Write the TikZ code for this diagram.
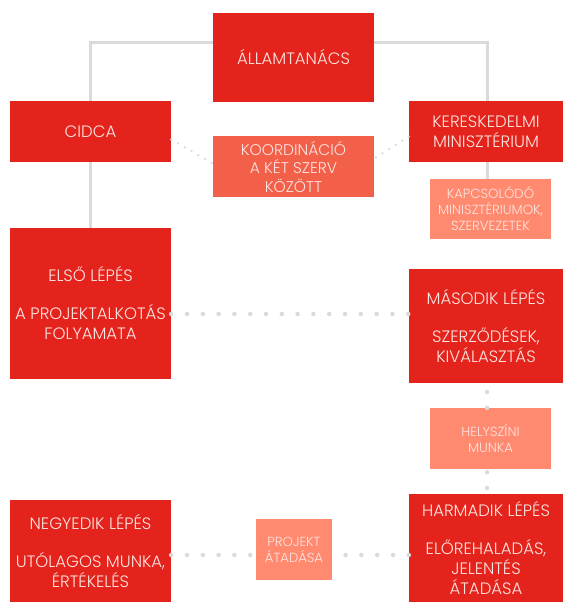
\documentclass[tikz,border=0pt]{standalone}
\usepackage{fontspec}
\IfFontExistsTF{Poppins Light}{\setmainfont{Poppins Light}}{\setmainfont{Poppins}}
\usetikzlibrary{calc}
\definecolor{boxred}{RGB}{228,36,28}
\definecolor{midred}{RGB}{242,96,74}
\definecolor{salmon}{RGB}{255,138,112}
\definecolor{boxtext}{RGB}{253,228,224}
\definecolor{linegray}{RGB}{218,218,218}
\tikzset{%
  stepbox/.style  = {shape=rectangle, fill=boxred, draw=none,%
                     align=center, text=boxtext, inner sep=0pt,%
                     font=\fontsize{16.5}{20}\selectfont},%
  coordbox/.style = {stepbox, fill=midred,%
                     font=\fontsize{15.5}{18.5}\selectfont},%
  sidebox/.style  = {stepbox, fill=salmon,%
                     font=\fontsize{13.2}{16}\selectfont},%
  tie/.style      = {draw=linegray, line width=3pt},%
  bigdots/.style  = {draw=linegray, line width=4.5pt, line cap=round,%
                     dash pattern=on 0pt off 15.8pt},%
  smalldots/.style= {draw=linegray, line width=2.5pt, line cap=round,%
                     dash pattern=on 0pt off 7.8pt}%
}
\begin{document}
\begin{tikzpicture}[x=1pt,y=-1pt]
	\useasboundingbox (0,0) rectangle (563,602);
	\node (allam) at (293.5,57.5) [stepbox,minimum width=161pt,minimum height=89pt] {ÁLLAMTANÁCS};
	\node (cidca) at (90.5,131.5) [stepbox,minimum width=161pt,minimum height=61pt] {CIDCA};
	\node (keresk) at (486,131.5) [stepbox,minimum width=154pt,minimum height=61pt] {KERESKEDELMI\\MINISZTÉRIUM};
	\node (koord) at (293.5,166.5) [coordbox,minimum width=161pt,minimum height=61pt] {KOORDINÁCIÓ\\A KÉT SZERV\\KÖZÖTT};
	\node (kapcs) at (490.5,209) [sidebox,minimum width=121pt,minimum height=60pt] {KAPCSOLÓDÓ\\MINISZTÉRIUMOK,\\SZERVEZETEK};
	\node (elso) at (90.5,303.5) [stepbox,minimum width=161pt,minimum height=151pt] {ELSŐ LÉPÉS\\[18pt]A PROJEKTALKOTÁS\\FOLYAMATA};
	\node (masodik) at (486,326) [stepbox,minimum width=154pt,minimum height=114pt] {MÁSODIK LÉPÉS\\[18pt]SZERZŐDÉSEK,\\KIVÁLASZTÁS};
	\node (helysz) at (490.5,438.5) [sidebox,minimum width=121pt,minimum height=61pt] {HELYSZÍNI\\MUNKA};
	\node (harmadik) at (486,548) [stepbox,minimum width=154pt,minimum height=108pt] {HARMADIK LÉPÉS\\[18pt]ELŐREHALADÁS,\\JELENTÉS\\ÁTADÁSA};
	\node (negyedik) at (90.5,551) [stepbox,minimum width=161pt,minimum height=102pt] {NEGYEDIK LÉPÉS\\[18pt]UTÓLAGOS MUNKA,\\ÉRTÉKELÉS};
	\node (projekt) at (294,549.5) [sidebox,minimum width=76pt,minimum height=61pt] {PROJEKT\\ÁTADÁSA};

	\draw [tie] ([yshift=14.5pt]allam.west) -| (cidca.north);
	\draw [tie] ([yshift=14.5pt]allam.east) -| ([xshift=1pt]keresk.north);
	\draw [tie] (cidca.south) -- (elso.north);
	\draw [tie] ([xshift=1pt]keresk.south) -- ([xshift=1pt]keresk.south |- kapcs.north);

	\draw [smalldots] ([yshift=-8pt]cidca.east) -- ([yshift=3pt]koord.west);
	\draw [smalldots] ([yshift=-5pt]keresk.west) -- ([yshift=8pt]koord.east);

	\draw [bigdots] ([yshift=-10.5pt]elso.east) -- ([yshift=-10.5pt]elso.east -| masodik.west);
	\draw [bigdots] ([xshift=1pt]helysz.north -| masodik.south) -- ([xshift=1pt]masodik.south);
	\draw [bigdots] ([xshift=1pt,yshift=-3pt]helysz.south -| harmadik.north) -- ([xshift=1pt]harmadik.north);
	\draw [bigdots] ([yshift=-4pt]negyedik.east) -- ([yshift=-4pt]negyedik.east -| projekt.west);
	\draw [bigdots] ([yshift=-4pt]negyedik.east -| harmadik.west) -- ([yshift=-4pt]negyedik.east -| projekt.east);
\end{tikzpicture}
\end{document}
